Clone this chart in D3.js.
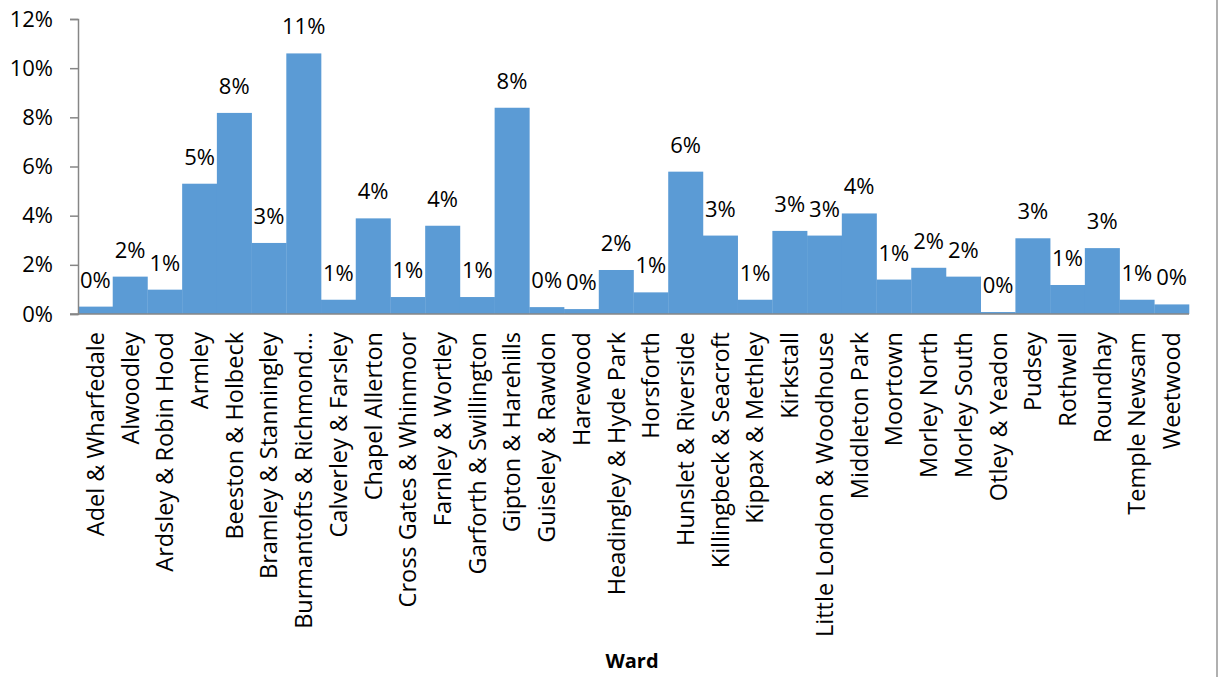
<!DOCTYPE html>
<html>
<head>
    <meta charset="utf-8">
    <title>Ward</title>
    <script type="text/javascript" src="https://cdnjs.cloudflare.com/ajax/libs/d3/7.8.5/d3.min.js"></script>
    <style>
        body { margin: 0; background: #fff; }
        text { font-family: "Open Sans", sans-serif; fill: #000; }
    </style>
</head>

<body>

<script type="text/javascript">

    var wards = [
        "Adel & Wharfedale", "Alwoodley", "Ardsley & Robin Hood", "Armley",
        "Beeston & Holbeck", "Bramley & Stanningley", "Burmantofts & Richmond\u2026",
        "Calverley & Farsley", "Chapel Allerton", "Cross Gates & Whinmoor",
        "Farnley & Wortley", "Garforth & Swillington", "Gipton & Harehills",
        "Guiseley & Rawdon", "Harewood", "Headingley & Hyde Park", "Horsforth",
        "Hunslet & Riverside", "Killingbeck & Seacroft", "Kippax & Methley",
        "Kirkstall", "Little London & Woodhouse", "Middleton Park", "Moortown",
        "Morley North", "Morley South", "Otley & Yeadon", "Pudsey", "Rothwell",
        "Roundhay", "Temple Newsam", "Weetwood"
    ];

    // share of total, in percent
    var shares = [
        0.30, 1.52, 0.99, 5.30, 8.18, 2.89, 10.60, 0.58, 3.89, 0.69,
        3.59, 0.69, 8.39, 0.28, 0.20, 1.79, 0.88, 5.79, 3.19, 0.58,
        3.38, 3.19, 4.09, 1.40, 1.88, 1.52, 0.08, 3.08, 1.18, 2.68,
        0.58, 0.39
    ];

    var yTicks = [0, 2, 4, 6, 8, 10, 12];

    var width = 1224,
        height = 677,
        plotLeft = 78,
        plotRight = 1189,
        plotTop = 19,
        plotBottom = 314;

    var x = d3.scaleBand()
            .domain(wards)
            .range([plotLeft, plotRight])
            .padding(0);

    var y = d3.scaleLinear()
            .domain([0, 12])
            .range([plotBottom, plotTop]);

    var svg = d3.select("body").append("svg")
            .attr("width", width)
            .attr("height", height);

    // bars
    svg.selectAll("rect.bar")
            .data(wards)
        .enter()
            .append("rect")
            .attr("class", "bar")
            .attr("x", function(d){ return x(d); })
            .attr("y", function(d, i){ return y(shares[i]); })
            .attr("width", x.bandwidth() + 0.3)
            .attr("height", function(d, i){ return plotBottom - y(shares[i]); })
            .attr("fill", "#5b9bd5");

    // value labels
    svg.selectAll("text.val")
            .data(wards)
        .enter()
            .append("text")
            .attr("class", "val")
            .attr("x", function(d){ return x(d) + x.bandwidth() / 2; })
            .attr("y", function(d, i){ return y(shares[i]) - 19; })
            .attr("text-anchor", "middle")
            .style("font-size", "22px")
            .text(function(d, i){ return Math.round(shares[i]) + "%"; });

    // y axis
    var yAxis = d3.axisLeft(y)
            .tickValues(yTicks)
            .tickSize(8)
            .tickPadding(17)
            .tickFormat(function(d){ return d + "%"; });

    var gy = svg.append("g")
            .attr("transform", "translate(" + plotLeft + ",0)")
            .call(yAxis);
    gy.selectAll("path, line").attr("stroke", "#868686").attr("stroke-width", 1.5);
    gy.selectAll("text").style("font-size", "22px").style("font-family", "'Open Sans', sans-serif").attr("fill", "#000");

    // x axis
    var xAxis = d3.axisBottom(x).tickSize(0).tickFormat("");
    var gx = svg.append("g")
            .attr("transform", "translate(0," + plotBottom + ")")
            .call(xAxis);
    gx.select("path").attr("stroke", "#868686").attr("stroke-width", 1.5)
            .attr("d", "M" + (plotLeft - 8) + ",0H" + plotRight);

    // category labels
    svg.selectAll("text.cat")
            .data(wards)
        .enter()
            .append("text")
            .attr("class", "cat")
            .attr("transform", function(d){
                return "translate(" + (x(d) + x.bandwidth() / 2) + ",332) rotate(-90)";
            })
            .attr("dy", "0.36em")
            .attr("text-anchor", "end")
            .style("font-size", "23.5px")
            .text(function(d){ return d; });

    svg.append("text")
            .attr("x", 632)
            .attr("y", 668)
            .attr("text-anchor", "middle")
            .style("font-size", "20px")
            .style("font-weight", "bold")
            .text("Ward");

    // chart frame edge
    svg.append("line")
            .attr("x1", 1217).attr("x2", 1217)
            .attr("y1", 0).attr("y2", height)
            .attr("stroke", "#b0b0b0")
            .attr("stroke-width", 2);

</script>

</body>

</html>
